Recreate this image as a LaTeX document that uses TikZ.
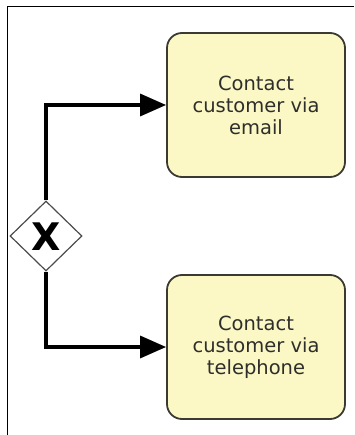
\documentclass[tikz,border=0pt]{standalone}
\usepackage{fontspec}
\setmainfont{DejaVu Sans}
\usetikzlibrary{shapes.geometric,arrows.meta}
\definecolor{taskfill}{HTML}{FBF8C6}
\definecolor{taskdraw}{HTML}{3A3A32}
\definecolor{txt}{HTML}{2E2E2A}
\begin{document}
\begin{tikzpicture}[x=1pt,y=-1pt,
  task/.style={draw=taskdraw,line width=1.8pt,fill=taskfill,rounded corners=15pt,
    minimum width=178pt,minimum height=144pt,align=center,text=txt,
    font=\fontsize{19.5}{22}\selectfont,inner sep=0pt},
  gate/.style={draw=black!70,line width=1.2pt,fill=white,diamond,minimum width=72pt,minimum height=70pt,inner sep=0pt},
  flow/.style={line width=3.3pt,-{Triangle[length=26pt,width=22pt]}}]
\useasboundingbox (0,0) rectangle (354,435);
\draw[line width=1pt] (7,435) -- (7,7) -- (354,7);
\node[gate] (g) at (46,236) {};
\node[font=\bfseries\fontsize{38}{38}\selectfont] (gx) at (46,237) {X};
\node[task] (t1) at (256,105) {Contact\\customer via\\email};
\node[task] (t2) at (256,347) {Contact\\customer via\\telephone};
\draw[flow] (g.north) |- (t1.west);
\draw[flow] (g.south) |- (t2.west);
\end{tikzpicture}
\end{document}
